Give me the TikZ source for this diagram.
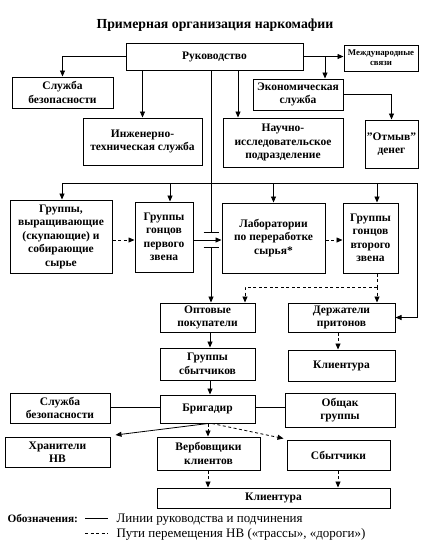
\documentclass[tikz,border=0pt]{standalone}
\usepackage{fontspec}
\setmainfont{Liberation Serif}
\usetikzlibrary{arrows.meta,calc}
\begin{document}
\begin{tikzpicture}[x=1pt,y=-1pt,
  box/.style={draw, line width=1pt, align=center, inner sep=0pt,
    font=\bfseries\fontsize{11.5}{13.5}\selectfont},
  small/.style={font=\bfseries\fontsize{8.8}{10}\selectfont},
  ln/.style={line width=0.8pt},
  arr/.style={ln, -{Triangle[length=6pt,width=5pt]}},
  dsh/.style={ln, dash pattern=on 3pt off 2.5pt},
  darr/.style={dsh, -{Triangle[length=6pt,width=5pt]}}]
\useasboundingbox (0,0) rectangle (425,542);

\node[font=\bfseries\fontsize{13.8}{16}\selectfont] (title) at (215,25) {Примерная организация наркомафии};

% boxes
\node[box, minimum width=177pt, minimum height=27pt] (ruk) at (214.5,56.5) {Руководство};
\node[box, small, minimum width=74pt, minimum height=26pt] (mezh) at (381,58) {Международные\\связи};
\node[box, minimum width=101pt, minimum height=31pt] (sb1) at (62.5,92.5) {Служба\\безопасности};
\node[box, minimum width=119pt, minimum height=47pt] (inzh) at (142.5,141.5) {Инженерно-\\техническая служба};
\node[box, minimum width=120pt, minimum height=49pt] (nauch) at (283,142.5) {Научно-\\исследовательское\\подразделение};
\node[box, minimum width=90pt, minimum height=31pt] (econ) at (298,94.5) {Экономическая\\служба};
\node[box, minimum width=53pt, minimum height=48pt] (otmyv) at (391.5,144) {{\char34}Отмыв{\char34}\\денег};

\node[box, minimum width=102pt, minimum height=73pt] (gr1) at (61,236.5) {Группы,\\выращивающие\\(скупающие) и\\собирающие\\сырье};
\node[box, minimum width=58pt, minimum height=70pt] (gon1) at (164,237) {Группы\\гонцов\\первого\\звена};
\node[box, minimum width=103pt, minimum height=70pt] (lab) at (273.5,238) {Лаборатории\\по переработке\\сырья*};
\node[box, minimum width=55pt, minimum height=70pt] (gon2) at (370.5,238) {Группы\\гонцов\\второго\\звена};

\node[box, minimum width=95pt, minimum height=29pt] (opt) at (207.5,317.5) {Оптовые\\покупатели};
\node[box, minimum width=107pt, minimum height=29pt] (derzh) at (341.5,317.5) {Держатели\\притонов};
\node[box, minimum width=95pt, minimum height=32pt] (sbytgr) at (207.5,364) {Группы\\сбытчиков};
\node[box, minimum width=107pt, minimum height=31pt] (kl1) at (341.5,365.5) {Клиентура};
\node[box, minimum width=95pt, minimum height=28pt] (brig) at (207.5,409) {Бригадир};
\node[box, minimum width=100pt, minimum height=30pt] (sb2) at (60,408) {Служба\\безопасности};
\node[box, minimum width=110pt, minimum height=34pt] (obsh) at (340,410) {Общак\\группы};
\node[box, minimum width=105pt, minimum height=30pt] (hran) at (57.5,452) {Хранители\\НВ};
\node[box, minimum width=103pt, minimum height=33pt] (verb) at (208.5,453.5) {Вербовщики\\клиентов};
\node[box, minimum width=103pt, minimum height=30pt] (sbyt) at (338.5,455) {Сбытчики};
\node[box, minimum width=233pt, minimum height=20pt] (kl2) at (273.5,498) {Клиентура};

% top connectors
\draw[arr] (ruk.west) -| (sb1.north);
\draw[arr] (ruk.south -| inzh.north) -- (inzh.north);
\draw[arr] (ruk.south -| 238,0) -- (238,0 |- nauch.north);
\draw[arr] (ruk.east) -- (ruk.east -| mezh.west);
\draw[arr] (ruk.east -| 325,0) -- (325,0 |- econ.north);
\draw[arr] (econ.east) -| (otmyv.north);

% central vertical with crossing
\coordinate (c1) at (211,232);
\coordinate (c2) at (211,247);
\draw[ln] (ruk.south -| c1) -- (c1);
\draw[ln] (203.5,232) -- (218.5,232);
\draw[ln] (203.5,247) -- (218.5,247);
\draw[arr] (c2) -- (c2 |- opt.north);

% distribution line
\coordinate (hl) at (62,183);
\coordinate (hr) at (417,183);
\draw[ln] (hl) -- (hr);
\draw[arr] (hl) -- (hl |- gr1.north);
\draw[arr] (170,183) -- (170,0 |- gon1.north);
\draw[arr] (lab.north |- hr) -- (lab.north);
\draw[arr] (377,183) -- (377,0 |- gon2.north);
\draw[arr] (hr) |- (derzh.east);

% second row horizontal
\draw[darr] (gr1.east |- 0,240) -- (gon1.west |- 0,240);
\draw[arr] (gon1.east |- 0,240) -- (lab.west |- 0,240);
\draw[darr] (lab.east |- 0,240) -- (gon2.west |- 0,240);

% dashed distribution
\coordinate (dj) at (377,287);
\draw[dsh] (377,0 |- gon2.south) -- (dj);
\draw[darr] (dj) -| (245,0 |- opt.north);
\draw[darr] (dj) -- (dj |- derzh.north);

% lower chain
\draw[arr] (210,0 |- opt.south) -- (210,0 |- sbytgr.north);
\draw[arr] (210,0 |- sbytgr.south) -- (210,0 |- brig.north);
\draw[darr] (338,0 |- derzh.south) -- (338,0 |- kl1.north);
\draw[ln] (sb2.east |- 0,407) -- (brig.west |- 0,407);
\draw[ln] (brig.east |- 0,407) -- (obsh.west |- 0,407);
\draw[arr] (208,0 |- brig.south) -- ($(hran.north east)+(5,-1.5)$);
\draw[darr] (208,0 |- brig.south) -- (208,0 |- verb.north);
\draw[darr] (212,0 |- brig.south) -- ($(sbyt.north west)+(-3,-1)$);
\draw[darr] (208,0 |- verb.south) -- (208,0 |- kl2.north);
\draw[darr] (338,0 |- sbyt.south) -- (338,0 |- kl2.north);

% legend
\node[anchor=west, font=\bfseries\fontsize{11.3}{13}\selectfont] (leg) at (4,519) {Обозначения:};
\coordinate (l1) at (85,518.5);
\coordinate (l2) at (85,533.5);
\draw[ln] (l1) -- ++(23,0);
\draw[dsh] (l2) -- ++(23,0);
\node[anchor=west, font=\fontsize{13}{15}\selectfont] (leg1) at (113,519.5) {Линии руководства и подчинения};
\node[anchor=west, font=\fontsize{13}{15}\selectfont] (leg2) at (113,534) {Пути перемещения НВ («трассы», «дороги»)};
\end{tikzpicture}
\end{document}
